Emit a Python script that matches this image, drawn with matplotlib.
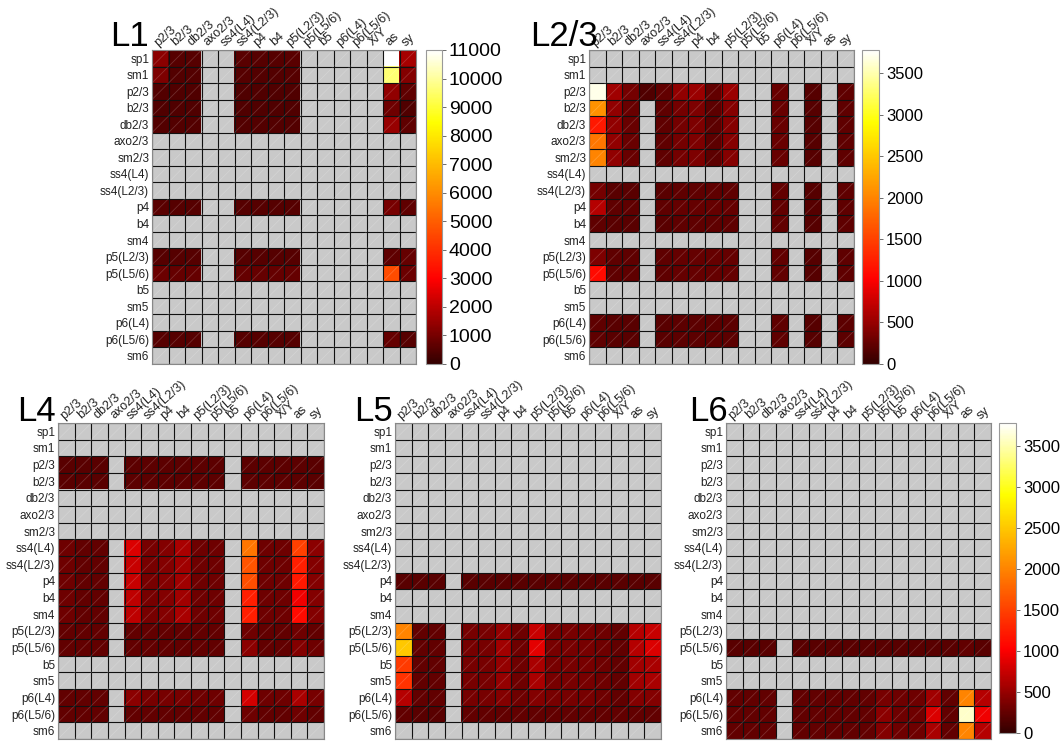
import numpy as np
import matplotlib
matplotlib.use("Agg")
import matplotlib.pyplot as plt
from matplotlib.colors import LinearSegmentedColormap
from matplotlib.collections import LineCollection

plt.rcParams['font.family'] = ['Liberation Sans', 'DejaVu Sans']

N = np.nan
ROWS = ["sp1", "sm1", "p2/3", "b2/3", "db2/3", "axo2/3", "sm2/3", "ss4(L4)", "ss4(L2/3)",
        "p4", "b4", "sm4", "p5(L2/3)", "p5(L5/6)", "b5", "sm5", "p6(L4)", "p6(L5/6)", "sm6"]
COLS = ["p2/3", "b2/3", "db2/3", "axo2/3", "ss4(L4)", "ss4(L2/3)", "p4", "b4",
        "p5(L2/3)", "p5(L5/6)", "b5", "p6(L4)", "p6(L5/6)", "X/Y", "as", "sy"]
EMPTY = [N] * 16

L1 = [
    [1300, 550, 550, N, N, 600, 550, 550, 600, N, N, N, N, N, 11000, 1700],
    [1100, 500, 500, N, N, 550, 500, 500, 550, N, N, N, N, N, 9600, 1200],
    [500, 450, 450, N, N, 450, 450, 450, 450, N, N, N, N, N, 1400, 650],
    [450, 450, 450, N, N, 450, 450, 450, 450, N, N, N, N, N, 900, 450],
    [500, 500, 500, N, N, 500, 500, 500, 500, N, N, N, N, N, 1500, 650],
    EMPTY, EMPTY, EMPTY, EMPTY,
    [600, 550, 550, N, N, 550, 550, 550, 550, N, N, N, N, N, 1000, 650],
    EMPTY, EMPTY,
    [550, 550, 550, N, N, 550, 550, 550, 550, N, N, N, N, N, 650, 750],
    [850, 750, 750, N, N, 750, 750, 750, 750, N, N, N, N, N, 4600, 850],
    EMPTY, EMPTY, EMPTY,
    [550, 550, 550, N, N, 550, 550, 550, 550, N, N, N, N, N, 750, 550],
    EMPTY,
]

L23 = [
    EMPTY, EMPTY,
    [3700, 550, 330, 150, 250, 480, 520, 250, 520, N, N, 280, N, 180, N, 230],
    [2100, 480, 280, N, 230, 330, 380, 220, 420, N, N, 280, N, 180, N, 230],
    [1200, 480, 280, N, 230, 330, 380, 220, 420, N, N, 280, N, 180, N, 230],
    [1900, 480, 280, N, 230, 330, 380, 220, 420, N, N, 280, N, 180, N, 230],
    [2000, 480, 280, N, 230, 330, 380, 220, 420, N, N, 280, N, 180, N, 230],
    EMPTY,
    [330, 200, 200, N, 200, 230, 230, 230, 230, N, N, 250, N, 180, N, 230],
    [650, 230, 230, N, 230, 260, 260, 260, 260, N, N, 250, N, 180, N, 230],
    [230, 200, 200, N, 200, 230, 230, 230, 230, N, N, 250, N, 180, N, 230],
    EMPTY,
    [380, 230, 230, N, 230, 260, 260, 260, 260, N, N, 250, N, 180, N, 230],
    [1100, 230, 230, N, 230, 260, 260, 260, 260, N, N, 250, N, 180, N, 230],
    EMPTY, EMPTY,
    [230, 200, 200, N, 200, 220, 220, 220, 220, N, N, 230, N, 180, N, 220],
    [230, 200, 200, N, 200, 220, 220, 220, 220, N, N, 230, N, 180, N, 220],
    EMPTY,
]

L4 = [
    EMPTY, EMPTY,
    [200, 200, 200, N, 220, 220, 220, 220, 220, 220, N, 220, 220, 220, 220, 200],
    [200, 200, 200, N, 220, 220, 220, 220, 220, 220, N, 220, 220, 220, 220, 200],
    EMPTY, EMPTY, EMPTY,
    [300, 250, 250, N, 850, 350, 400, 600, 300, 300, N, 1900, 300, 300, 1500, 450],
    [300, 250, 250, N, 750, 350, 400, 550, 300, 300, N, 1650, 300, 300, 1250, 400],
    [300, 250, 250, N, 750, 350, 400, 550, 300, 300, N, 1600, 300, 300, 1200, 400],
    [300, 250, 250, N, 700, 350, 400, 550, 300, 300, N, 1250, 300, 300, 950, 400],
    [300, 250, 250, N, 700, 350, 400, 600, 300, 300, N, 1250, 300, 300, 1100, 400],
    [250, 250, 250, N, 250, 250, 250, 250, 250, 250, N, 300, 250, 250, 300, 250],
    [250, 250, 250, N, 250, 250, 250, 250, 250, 250, N, 450, 250, 250, 400, 300],
    EMPTY, EMPTY,
    [250, 250, 250, N, 450, 350, 350, 350, 300, 300, N, 800, 300, 300, 600, 350],
    [250, 250, 250, N, 250, 250, 250, 250, 250, 250, N, 300, 250, 250, 300, 250],
    EMPTY,
]

L5 = [
    EMPTY, EMPTY, EMPTY, EMPTY, EMPTY, EMPTY, EMPTY, EMPTY, EMPTY,
    [200, 200, 200, N, 200, 200, 200, 200, 200, 200, 200, 200, 200, 200, 200, 200],
    EMPTY, EMPTY,
    [2000, 250, 250, N, 350, 350, 500, 300, 750, 350, 350, 350, 300, 250, 650, 750],
    [2500, 250, 250, N, 350, 350, 550, 300, 900, 350, 350, 350, 300, 250, 650, 850],
    [1450, 250, 250, N, 350, 350, 500, 300, 600, 350, 350, 350, 300, 250, 550, 600],
    [1400, 250, 250, N, 350, 350, 500, 300, 600, 350, 350, 350, 300, 250, 550, 600],
    [650, 250, 250, N, 350, 350, 400, 300, 400, 350, 350, 350, 300, 250, 400, 400],
    [250, 200, 200, N, 250, 250, 250, 250, 250, 250, 250, 250, 250, 250, 250, 250],
    EMPTY,
]

L6 = [
    EMPTY, EMPTY, EMPTY, EMPTY, EMPTY, EMPTY, EMPTY, EMPTY, EMPTY, EMPTY,
    EMPTY, EMPTY, EMPTY,
    [200, 200, 200, N, 200, 200, 200, 200, 200, 200, 200, 200, 200, 200, 250, 200],
    EMPTY, EMPTY,
    [250, 250, 250, N, 250, 250, 250, 250, 250, 350, 300, 300, 550, 250, 2000, 650],
    [250, 250, 250, N, 250, 250, 250, 250, 250, 450, 300, 300, 850, 250, 3600, 950],
    [250, 250, 250, N, 250, 250, 250, 250, 250, 400, 300, 300, 600, 250, 2000, 650],
]

TITLES = ["L1", "L2/3", "L4", "L5", "L6"]
VMAX = [11000, 3780, 3780, 3780, 3780]
TICKS_L1 = np.arange(0, 11001, 1000)
TICKS_OTHER = np.arange(0, 3501, 500)

cmap = LinearSegmentedColormap.from_list(
    "hotish",
    [(0.0, (0.2, 0.0, 0.0)), (0.27, (1.0, 0.0, 0.0)), (0.52, (1.0, 0.5, 0.0)),
     (0.77, (1.0, 1.0, 0.0)), (1.0, (1.0, 1.0, 1.0))])
cmap.set_bad("#c9c9c9")

W, H = 1061, 743
fig = plt.figure(figsize=(W / 100, H / 100), dpi=100)


def box(x0, y0, x1, y1):
    return [x0 / W, 1 - y1 / H, (x1 - x0) / W, (y1 - y0) / H]


def heat(pos, data, vmax, title, tpos):
    ax = fig.add_axes(box(*pos))
    arr = np.ma.masked_invalid(np.array(data, dtype=float))
    im = ax.imshow(arr, cmap=cmap, vmin=0, vmax=vmax, aspect="auto",
                   interpolation="nearest")
    nr, nc = arr.shape
    ax.hlines(np.arange(nr + 1) - 0.5, -0.5, nc - 0.5, colors="#111111", lw=0.8)
    ax.vlines(np.arange(nc + 1) - 0.5, -0.5, nr - 0.5, colors="#111111", lw=0.8)
    ii, jj = np.meshgrid(np.arange(nr), np.arange(nc), indexing="ij")
    segs = np.stack([np.stack([jj - 0.5, ii + 0.5], -1),
                     np.stack([jj + 0.5, ii - 0.5], -1)], axis=-2).reshape(-1, 2, 2)
    ax.add_collection(LineCollection(segs, colors="white", alpha=0.18, lw=0.6))
    ax.set_xlim(-0.5, nc - 0.5)
    ax.set_ylim(nr - 0.5, -0.5)
    ax.set_yticks(np.arange(nr))
    ax.set_yticklabels(ROWS, fontsize=8.5, color="#222222")
    ax.xaxis.tick_top()
    ax.set_xticks(np.arange(nc))
    ax.set_xticklabels(COLS, fontsize=9, rotation=42, ha="left", va="bottom",
                       rotation_mode="anchor", color="#222222")
    ax.tick_params(axis="y", length=0, pad=2)
    ax.tick_params(axis="x", length=0, pad=1)
    for s in ax.spines.values():
        s.set_color("#888888")
        s.set_linewidth(0.8)
    fig.text(tpos[0] / W, 1 - tpos[1] / H, title, fontsize=25, ha="left", va="baseline")
    return im


def cbar(im, pos, ticks, fs):
    cax = fig.add_axes(box(*pos))
    cb = fig.colorbar(im, cax=cax, ticks=ticks)
    cb.outline.set_edgecolor("#999999")
    cb.outline.set_linewidth(0.8)
    cax.tick_params(labelsize=fs, length=3, width=0.6, color="#555555", pad=2)
    return cb


im1 = heat((152, 50, 416, 364), L1, VMAX[0], TITLES[0], (110, 46))
cbar(im1, (426, 50, 442, 364), TICKS_L1, 14)
im2 = heat((589, 50, 854, 364), L23, VMAX[1], TITLES[1], (530, 46))
cbar(im2, (862, 50, 879, 364), TICKS_OTHER, 12)
heat((58, 423, 324, 739), L4, VMAX[2], TITLES[2], (17, 421))
heat((395, 423, 661, 739), L5, VMAX[3], TITLES[3], (354, 421))
im6 = heat((726, 423, 991, 739), L6, VMAX[4], TITLES[4], (689, 421))
cbar(im6, (999, 423, 1016, 733), TICKS_OTHER, 12)

fig.savefig("out.png", dpi=100)
